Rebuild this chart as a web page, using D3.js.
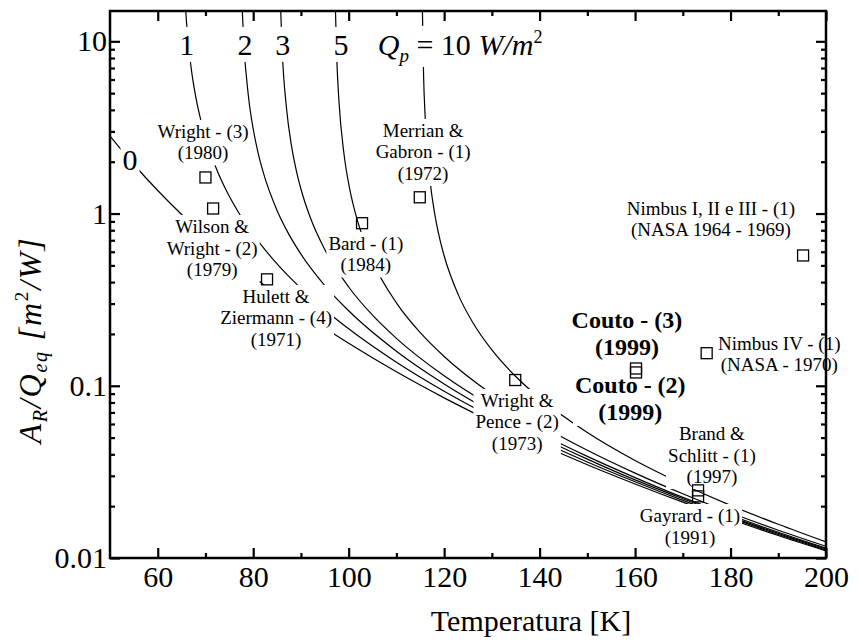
<!DOCTYPE html>
<html>
<head>
<meta charset="utf-8">
<script src="https://cdn.jsdelivr.net/npm/d3@7"></script>
<style>
  body { margin: 0; background: #fff; }
  svg { font-family: "Liberation Serif", "Times New Roman", serif; }
</style>
</head>
<body>
<div id="chart"></div>
<script>
// A_R/Q_eq versus temperature, one curve per Q_p value [W/m2]
const qpLevels = [0, 1, 2, 3, 5, 10];
const curveQ0 = [[50,2.822],[55,1.927],[60,1.361],[65,0.988],[70,0.7345],[75,0.5574],[80,0.4306],[85,0.3379],[90,0.2688],[95,0.2165],[100,0.1764],[110,0.1205],[120,0.0851],[130,0.0618],[140,0.0459],[150,0.0348],[160,0.0269],[170,0.0211],[180,0.0168],[190,0.0135],[200,0.0110]];
const curveQ1 = [[65.7,17.7],[66,13.2],[67,7.01],[68,4.71],[69,3.506],[70,2.767],[72,1.909],[75,1.259],[77,1.007],[80,0.756],[85,0.510],[90,0.368],[95,0.2764],[100,0.2141],[110,0.1370],[120,0.0930],[130,0.0658],[140,0.0481],[150,0.0361],[160,0.0277],[170,0.0216],[180,0.0171],[190,0.0137],[200,0.0111]];
const curveQ2 = [[77.6,17.8],[78,10.1],[79,4.80],[80,3.10],[81,2.269],[82,1.775],[85,1.042],[87,0.801],[90,0.581],[95,0.382],[100,0.2725],[110,0.1587],[120,0.1025],[130,0.0705],[140,0.0506],[150,0.0375],[160,0.0284],[170,0.0221],[180,0.0174],[190,0.0139],[200,0.0113]];
const curveQ3 = [[85.7,17.1],[86,9.85],[87,4.03],[88,2.498],[89,1.794],[90,1.389],[92,0.942],[95,0.618],[100,0.3745],[105,0.2569],[110,0.1886],[120,0.1142],[130,0.0758],[140,0.0532],[150,0.0389],[160,0.0293],[170,0.0225],[180,0.0177],[190,0.0141],[200,0.0114]];
const curveQ5 = [[97.2,16.4],[97.5,8.07],[98,4.35],[99,2.239],[100,1.493],[101,1.111],[102,0.879],[105,0.529],[110,0.303],[115,0.2034],[120,0.148],[130,0.0893],[140,0.0596],[150,0.0422],[160,0.0311],[170,0.0236],[180,0.0183],[190,0.0145],[200,0.0117]];
const curveQ10 = [[115.4,18.0],[115.7,6.23],[116,3.755],[117,1.600],[118,1.007],[119,0.730],[120,0.569],[123,0.336],[126,0.233],[130,0.1614],[135,0.1132],[140,0.0849],[150,0.0535],[160,0.0368],[170,0.0268],[180,0.0202],[190,0.0157],[200,0.0124]];
const curves = [curveQ0, curveQ1, curveQ2, curveQ3, curveQ5, curveQ10];

// measured radiators (squares)
const sampleT     = [70.0, 71.6, 82.9, 102.8, 114.9, 134.9, 160.2, 160.2, 175.0, 195.2, 173.2, 173.2];
const sampleValue = [1.62, 1.07, 0.415, 0.879, 1.243, 0.108, 0.126, 0.1195, 0.1546, 0.571, 0.0247, 0.0228];

const xTicks = [60, 80, 100, 120, 140, 160, 180, 200];
const xMinorTicks = [70, 90, 110, 130, 150, 170, 190];
const yTicks = [0.01, 0.1, 1, 10];
const yTickLabels = ["0.01", "0.1", "1", "10"];
const yMinorTicks = [0.02,0.03,0.04,0.05,0.06,0.07,0.08,0.09,0.2,0.3,0.4,0.5,0.6,0.7,0.8,0.9,2,3,4,5,6,7,8,9];

// curve names at the top of each curve
const curveLabels = ["0", "1", "2", "3", "5"];
const curveLabelT = [54.2, 66.1, 78.3, 86.2, 98.4];
const curveLabelV = [1.79, 8.34, 8.34, 8.34, 8.34];

const notes = [
  { lines: ["Wright - (3)", "(1980)"], T: 69.5, v: 2.75 },
  { lines: ["Wilson &", "Wright - (2)", "(1979)"], T: 71.4, v: 0.771 },
  { lines: ["Hulett &", "Ziermann - (4)", "(1971)"], T: 84.8, v: 0.3027 },
  { lines: ["Bard - (1)", "(1984)"], T: 103.6, v: 0.6146 },
  { lines: ["Merrian &", "Gabron - (1)", "(1972)"], T: 115.6, v: 2.785 },
  { lines: ["Nimbus I, II e III - (1)", "(NASA 1964 - 1969)"], T: 175.9, v: 0.981 },
  { lines: ["Nimbus IV - (1)", "(NASA - 1970)"], T: 190.2, v: 0.1614 },
  { lines: ["Wright &", "Pence - (2)", "(1973)"], T: 135.3, v: 0.0753 },
  { lines: ["Brand &", "Schlitt - (1)", "(1997)"], T: 176.1, v: 0.0484 },
  { lines: ["Gayrard - (1)", "(1991)"], T: 171.5, v: 0.01618 },
  { lines: ["Couto - (3)", "(1999)"], T: 158.3, v: 0.2166, bold: true },
  { lines: ["Couto - (2)", "(1999)"], T: 159.0, v: 0.0908, bold: true }
];

const W = 859, H = 640;
const margin = { top: 11, right: 33, bottom: 82, left: 110 };

const svg = d3.select("#chart").append("svg")
    .attr("width", W)
    .attr("height", H);

const x = d3.scaleLinear()
    .domain([50, 200])
    .range([margin.left, W - margin.right]);
const y = d3.scaleLog()
    .domain([0.01, 15])
    .range([H - margin.bottom, margin.top]);

svg.append("clipPath").attr("id", "plot-clip")
  .append("rect")
    .attr("x", margin.left).attr("y", margin.top)
    .attr("width", W - margin.left - margin.right)
    .attr("height", H - margin.top - margin.bottom);

const line = d3.line()
    .x(d => x(d[0]))
    .y(d => y(d[1]))
    .curve(d3.curveMonotoneX);

svg.append("g")
    .attr("clip-path", "url(#plot-clip)")
  .selectAll("path")
  .data(curves)
  .enter()
  .append("path")
    .attr("d", line)
    .attr("fill", "none")
    .attr("stroke", "#000")
    .attr("stroke-width", 1.2);

// label with white box so the curves look broken around it
function boxed(g) {
    g.each(function() {
        const b = this.querySelector("text").getBBox();
        d3.select(this).insert("rect", "text")
            .attr("x", b.x - 2).attr("y", b.y - 1)
            .attr("width", b.width + 4).attr("height", b.height + 2)
            .attr("fill", "#fff");
    });
}

const noteG = svg.append("g").selectAll("g")
    .data(notes)
    .enter()
    .append("g");

noteG.append("text")
    .attr("text-anchor", "middle")
    .attr("font-size", d => d.bold ? 24 : 19)
    .attr("font-weight", d => d.bold ? "bold" : "normal")
    .each(function(d) {
        const step = d.bold ? 27 : 21.5;
        d3.select(this).selectAll("tspan")
            .data(d.lines)
            .enter()
            .append("tspan")
              .attr("x", x(d.T))
              .attr("y", (s, i) => y(d.v) + i * step)
              .text(s => s);
    });
noteG.call(boxed);

const cl = svg.append("g").selectAll("g")
    .data(curveLabels)
    .enter()
    .append("g");
cl.append("text")
    .attr("x", (d, i) => x(curveLabelT[i]))
    .attr("y", (d, i) => y(curveLabelV[i]))
    .attr("text-anchor", "middle")
    .attr("font-size", 30)
    .text(d => d);
cl.call(boxed);

// Q_p = 10 W/m2
const qg = svg.append("g");
const qt = qg.append("text")
    .attr("x", x(106.1))
    .attr("y", y(8.34))
    .attr("font-size", 30);
qt.append("tspan").attr("font-style", "italic").text("Q");
qt.append("tspan").attr("font-style", "italic").attr("font-size", 19).attr("dy", 7).text("p");
qt.append("tspan").attr("dy", -7).text("\u00a0= " + qpLevels[5] + " ");
qt.append("tspan").attr("font-style", "italic").text("W/m");
qt.append("tspan").attr("font-size", 18).attr("dy", -12).text("2");
qg.call(boxed);

svg.append("g").selectAll("rect")
    .data(sampleT)
    .enter()
    .append("rect")
      .attr("x", (d, i) => x(d) - 5.5)
      .attr("y", (d, i) => y(sampleValue[i]) - 5.5)
      .attr("width", 11)
      .attr("height", 11)
      .attr("fill", "none")
      .attr("stroke", "#000")
      .attr("stroke-width", 1.3);

// axes, ticks pointing inward
const yBottom = H - margin.bottom, yTop = margin.top;
const xLeft = margin.left, xRight = W - margin.right;

function ticks(g) {
    g.select(".domain").remove();
    g.selectAll("line").attr("stroke", "#000").attr("stroke-width", 2.2);
    g.selectAll("text").attr("font-size", 30).attr("fill", "#000")
        .attr("font-family", "Liberation Serif, serif");
}

svg.append("g")
    .attr("transform", `translate(0,${yBottom})`)
    .call(d3.axisBottom(x).tickValues(xTicks).tickSize(-10).tickPadding(8))
    .call(ticks);
svg.append("g")
    .attr("transform", `translate(0,${yBottom})`)
    .call(d3.axisBottom(x).tickValues(xMinorTicks).tickSize(-5).tickFormat(""))
    .call(ticks);
svg.append("g")
    .attr("transform", `translate(0,${yTop})`)
    .call(d3.axisTop(x).tickValues(xTicks).tickSize(-10).tickFormat(""))
    .call(ticks);
svg.append("g")
    .attr("transform", `translate(0,${yTop})`)
    .call(d3.axisTop(x).tickValues(xMinorTicks).tickSize(-5).tickFormat(""))
    .call(ticks);

svg.append("g")
    .attr("transform", `translate(${xLeft},0)`)
    .call(d3.axisLeft(y).tickValues(yTicks).tickSize(-10).tickPadding(3)
        .tickFormat((d, i) => yTickLabels[i]))
    .call(ticks);
svg.append("g")
    .attr("transform", `translate(${xLeft},0)`)
    .call(d3.axisLeft(y).tickValues(yMinorTicks).tickSize(-5).tickFormat(""))
    .call(ticks);
svg.append("g")
    .attr("transform", `translate(${xRight},0)`)
    .call(d3.axisRight(y).tickValues(yTicks).tickSize(-10).tickFormat(""))
    .call(ticks);
svg.append("g")
    .attr("transform", `translate(${xRight},0)`)
    .call(d3.axisRight(y).tickValues(yMinorTicks).tickSize(-5).tickFormat(""))
    .call(ticks);

svg.append("rect")
    .attr("x", xLeft).attr("y", yTop)
    .attr("width", xRight - xLeft).attr("height", yBottom - yTop)
    .attr("fill", "none")
    .attr("stroke", "#000")
    .attr("stroke-width", 2.5);

svg.append("text")
    .attr("x", 531)
    .attr("y", 631)
    .attr("text-anchor", "middle")
    .attr("font-size", 30)
    .text("Temperatura [K]");

const yt = svg.append("text")
    .attr("transform", "translate(41,340) rotate(-90)")
    .attr("text-anchor", "middle")
    .attr("font-size", 32)
    .attr("letter-spacing", 1.8)
    .attr("font-style", "italic");
yt.append("tspan").text("A");
yt.append("tspan").attr("font-size", 20).attr("dy", 6).text("R");
yt.append("tspan").attr("dy", -6).text("/Q");
yt.append("tspan").attr("font-size", 20).attr("dy", 6).text("eq");
yt.append("tspan").attr("dy", -6).text(" [m");
yt.append("tspan").attr("font-size", 19).attr("font-style", "normal").attr("dy", -13).text("2");
yt.append("tspan").attr("dy", 13).text("/W]");
</script>
</body>
</html>
